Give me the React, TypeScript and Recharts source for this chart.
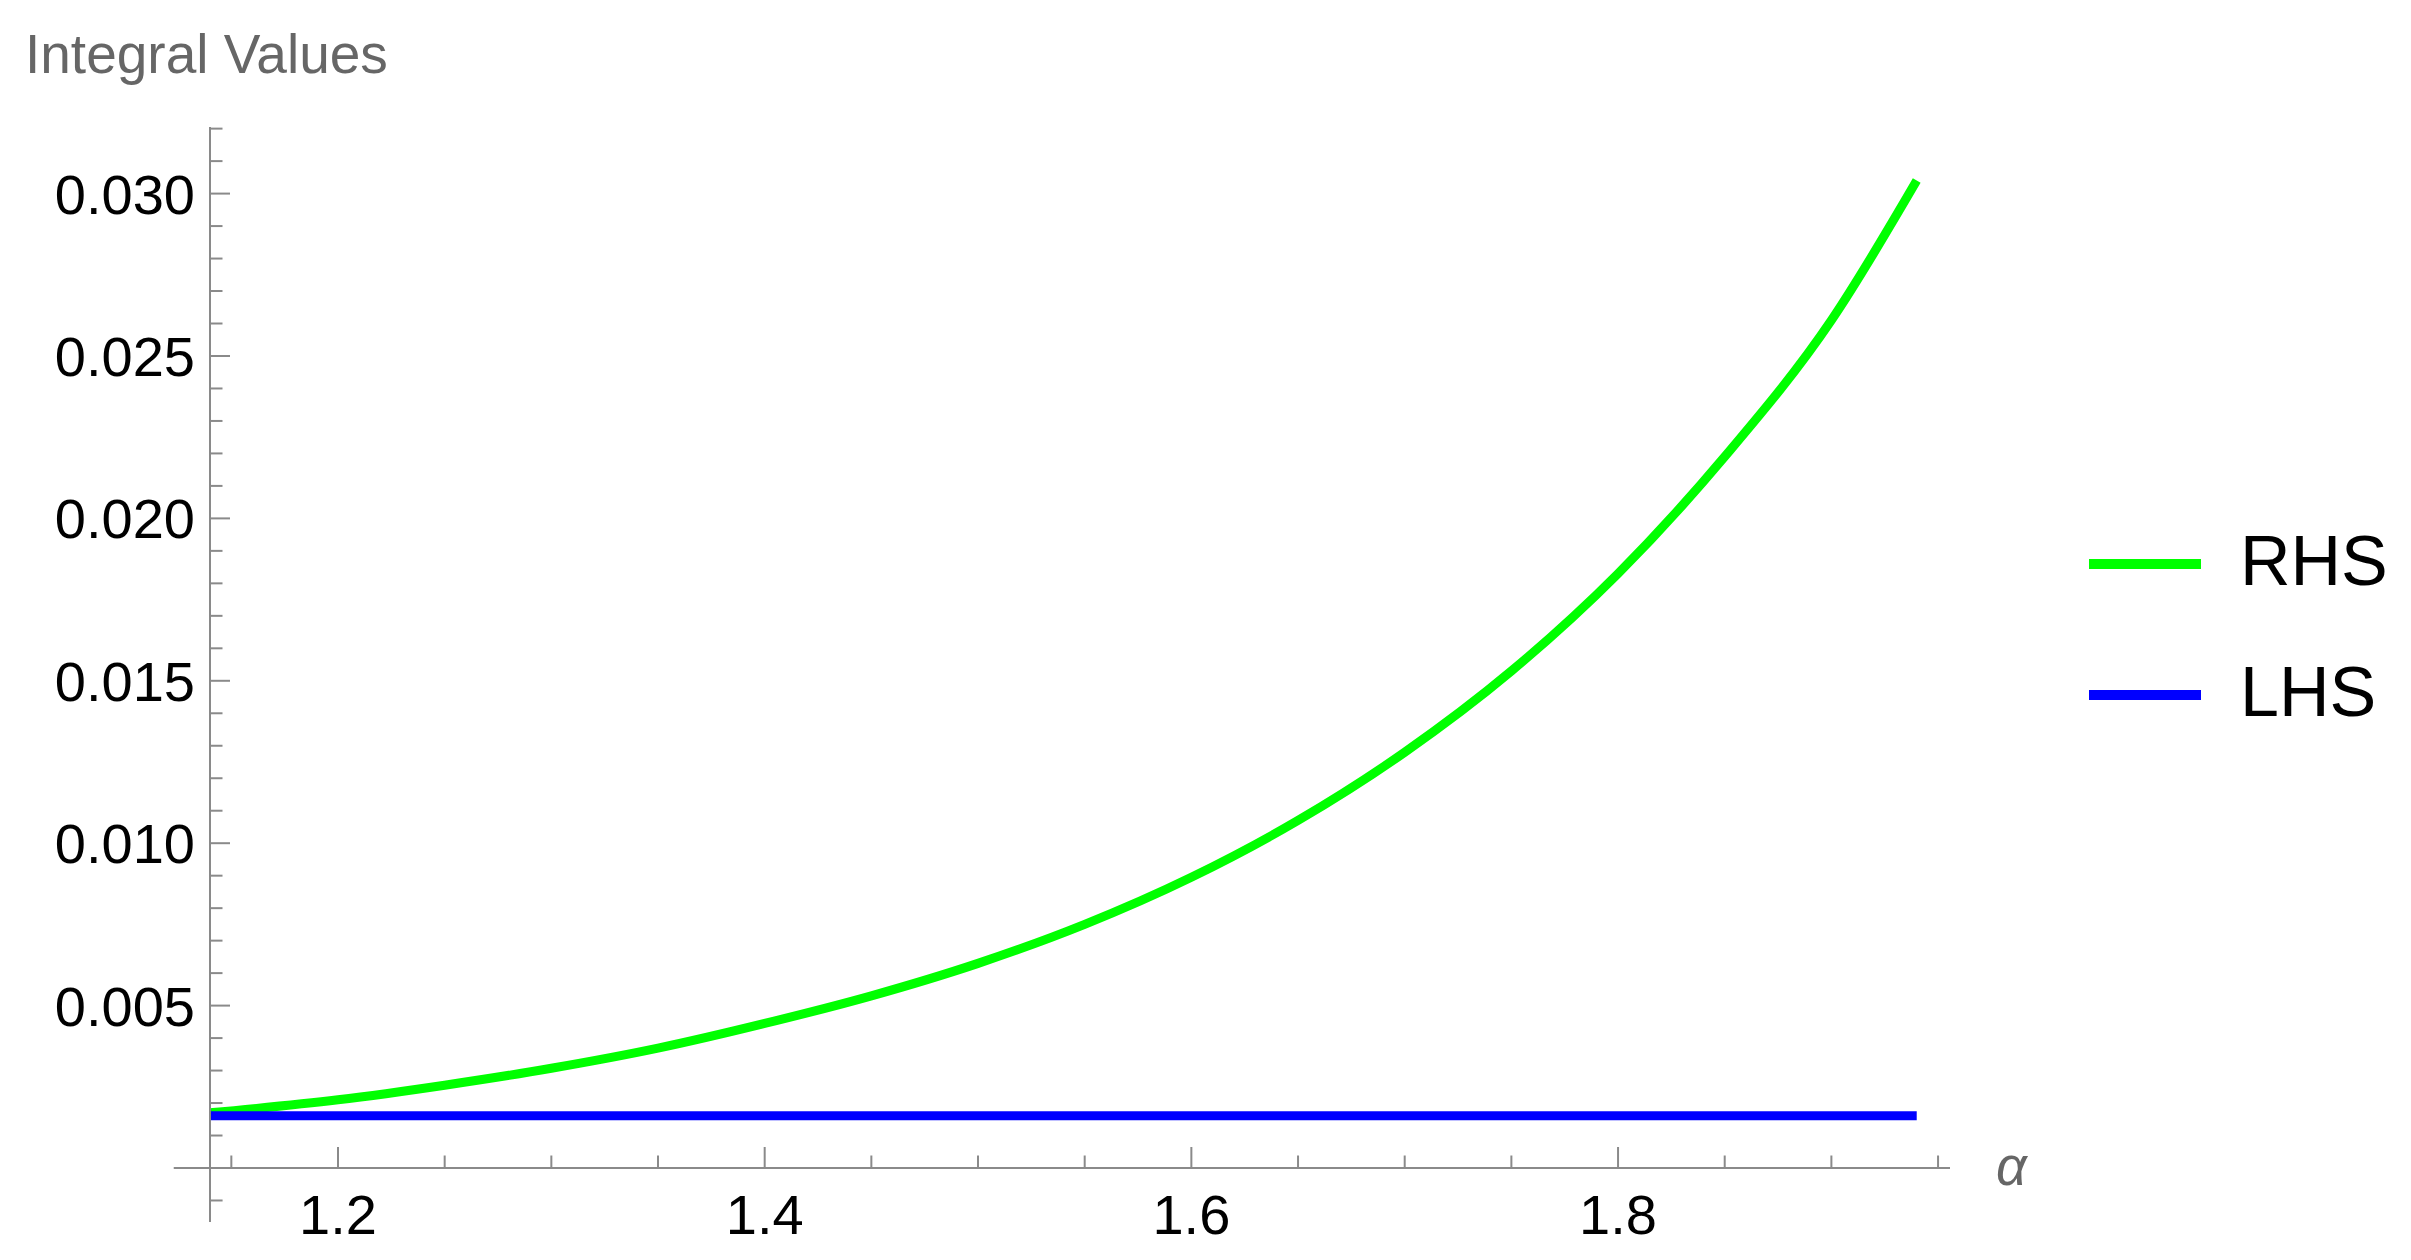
import React from "react";
import { LineChart, Line, XAxis, YAxis, ReferenceLine, Legend } from "recharts";

// values
const alphaValues = [1.14, 1.2, 1.25, 1.3, 1.35, 1.4, 1.45, 1.5, 1.55, 1.6, 1.65, 1.7, 1.75, 1.8, 1.85, 1.9, 1.94];
const rhsValues = [0.0017, 0.0021, 0.00255, 0.00307, 0.00369, 0.00445, 0.0053, 0.0063, 0.0075, 0.00895, 0.0107, 0.0128, 0.0153, 0.0183, 0.0219, 0.0261, 0.0304];
const lhsValues = [0.00161, 0.00161, 0.00161, 0.00161, 0.00161, 0.00161, 0.00161, 0.00161, 0.00161, 0.00161, 0.00161, 0.00161, 0.00161, 0.00161, 0.00161, 0.00161, 0.00161];

const xTicks = [1.15, 1.2, 1.25, 1.3, 1.35, 1.4, 1.45, 1.5, 1.55, 1.6, 1.65, 1.7, 1.75, 1.8, 1.85, 1.9, 1.95];
const xMajorTicks = [1.2, 1.4, 1.6, 1.8];
const yTicks = [
  0.001, 0.002, 0.003, 0.004, 0.005, 0.006, 0.007, 0.008, 0.009, 0.01, 0.011,
  0.012, 0.013, 0.014, 0.015, 0.016, 0.017, 0.018, 0.019, 0.02, 0.021, 0.022,
  0.023, 0.024, 0.025, 0.026, 0.027, 0.028, 0.029, 0.03, 0.031, 0.032,
];
const yMajorTicks = [0.005, 0.01, 0.015, 0.02, 0.025, 0.03];
const legendOrder = ["RHS", "LHS"];

const xDomain = [1.14, 1.9556];
const yDomain = [0, 0.03205];
const xAxisStart = 1.123; // axis line reaches a bit left of the y axis
const yAxisBottom = -0.00166; // and the y axis runs below the x axis
const belowTick = -0.001;

const data = alphaValues.map((a, i) => ({ alpha: a, rhs: rhsValues[i], lhs: lhsValues[i] }));

const AXIS = "#8a8a8a";
const FONT = "'Liberation Sans', Arial, sans-serif";

function YTick({ x, y, payload }: any) {
  const v = payload.value;
  const major = yMajorTicks.includes(v);
  return (
    <g>
      <line x1={x} x2={x + (major ? 20 : 12.5)} y1={y} y2={y} stroke={AXIS} strokeWidth={2} />
      {major && (
        <text x={x - 15} y={y + 20} textAnchor="end" fontSize={56} fontFamily={FONT} fill="#000">
          {v.toFixed(3)}
        </text>
      )}
    </g>
  );
}

function XTick({ x, y, payload }: any) {
  const v = payload.value;
  const major = xMajorTicks.includes(v);
  return (
    <g>
      <line x1={x} x2={x} y1={y} y2={y - (major ? 21 : 12.5)} stroke={AXIS} strokeWidth={2} />
      {major && (
        <text x={x} y={y + 66} textAnchor="middle" fontSize={56} fontFamily={FONT} fill="#000">
          {v.toFixed(1)}
        </text>
      )}
    </g>
  );
}

function LegendBox({ payload }: any) {
  const items = [...(payload || [])].sort(
    (a: any, b: any) => legendOrder.indexOf(a.value) - legendOrder.indexOf(b.value)
  );
  return (
    <svg width={330} height={230}>
      {items.map((p: any, i: number) => (
        <g key={p.value}>
          <line x1={9} x2={121} y1={54 + i * 131} y2={54 + i * 131} stroke={p.color} strokeWidth={10} />
          <text x={160} y={75 + i * 131} fontSize={70} fontFamily={FONT} fill="#000">
            {p.value}
          </text>
        </g>
      ))}
    </svg>
  );
}

const titleLabel = () => (
  <text x={25} y={73} fontSize={55} fontFamily={FONT} fill="#666">
    Integral Values
  </text>
);

const alphaLabel = () => (
  <text x={1996} y={1185} fontSize={54} fontStyle="italic" fontFamily={FONT} fill="#666">
    α
  </text>
);

export default function App() {
  return (
    <div style={{ position: "fixed", left: 0, top: 0, background: "#fff" }}>
      <LineChart width={2411} height={1260} data={data} margin={{ top: 127, right: 461, bottom: 0, left: 0 }}>
        <XAxis
          type="number"
          dataKey="alpha"
          domain={xDomain}
          ticks={xTicks}
          interval={0}
          height={92}
          tickSize={0}
          tickMargin={0}
          tickLine={false}
          axisLine={{ stroke: AXIS, strokeWidth: 2 }}
          tick={<XTick />}
          label={{ content: alphaLabel }}
        />
        <YAxis
          type="number"
          domain={yDomain}
          ticks={yTicks}
          interval={0}
          width={210}
          tickSize={0}
          tickMargin={0}
          tickLine={false}
          axisLine={{ stroke: AXIS, strokeWidth: 2 }}
          tick={<YTick />}
          label={{ content: titleLabel }}
        />
        <ReferenceLine
          segment={[{ x: xAxisStart, y: 0 }, { x: xDomain[0], y: 0 }]}
          stroke={AXIS}
          strokeWidth={2}
          ifOverflow="visible"
        />
        <ReferenceLine
          segment={[{ x: xDomain[0], y: 0 }, { x: xDomain[0], y: yAxisBottom }]}
          stroke={AXIS}
          strokeWidth={2}
          ifOverflow="visible"
        />
        <ReferenceLine
          segment={[{ x: xDomain[0], y: belowTick }, { x: 1.1459, y: belowTick }]}
          stroke={AXIS}
          strokeWidth={2}
          ifOverflow="visible"
        />
        <Line
          type="monotone"
          dataKey="rhs"
          name="RHS"
          stroke="#00ff00"
          strokeWidth={9}
          dot={false}
          activeDot={false}
          isAnimationActive={false}
        />
        <Line
          type="linear"
          dataKey="lhs"
          name="LHS"
          stroke="#0000ff"
          strokeWidth={9}
          dot={false}
          activeDot={false}
          isAnimationActive={false}
        />
        <Legend
          layout="horizontal"
          verticalAlign="middle"
          align="center"
          content={<LegendBox />}
          wrapperStyle={{ left: 2080, top: 510, width: 330, height: 230 }}
        />
      </LineChart>
    </div>
  );
}
